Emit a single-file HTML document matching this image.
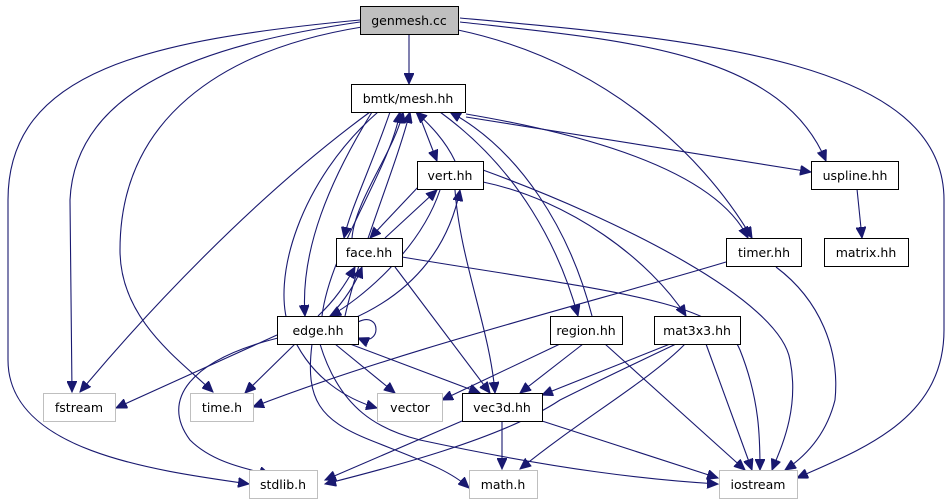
<!DOCTYPE html>
<html><head><meta charset="utf-8"><style>
body{margin:0;background:#fff}
svg{display:block}
text{font-family:"DejaVu Sans","Liberation Sans",sans-serif;font-size:12.5px;text-anchor:middle;fill:#000}
.e{fill:none;stroke:#191970;stroke-width:1.1}
</style></head><body>
<svg width="951" height="504" viewBox="0 0 951 504" xmlns="http://www.w3.org/2000/svg">
<defs><marker id="a" markerUnits="userSpaceOnUse" markerWidth="12" markerHeight="10" refX="11" refY="5" orient="auto"><path d="M0,0 L11,5 L0,10 z" fill="#191970" stroke="#191970"/></marker></defs>
<g class="e" marker-end="url(#a)">
<path d="M409,35 L409,84"/>
<path d="M360,22 C200,45 75,90 70,200 L72,392"/>
<path d="M362,27 C220,50 120,120 120,250 C120,320 180,360 213,392"/>
<path d="M360,20 C150,40 8,70 8,200 L8,360 C8,450 150,470 249,484"/>
<path d="M458,30 C600,60 700,150 752,238"/>
<path d="M460,22 C620,40 780,50 826,161"/>
<path d="M460,18 C700,40 944,60 944,200 L944,330 C944,420 860,450 797,478"/>
<path d="M418,112 L437,161"/>
<path d="M390,112 C370,170 350,210 344,238"/>
<path d="M372,112 C330,180 300,250 305,316"/>
<path d="M466,117 L811,172"/>
<path d="M466,114 C620,140 720,180 748,238"/>
<path d="M440,112 C520,170 560,250 578,316"/>
<path d="M370,112 C250,200 140,320 80,392"/>
<path d="M378,112 C300,180 270,280 290,330 C310,380 350,400 377,408"/>
<path d="M455,161 C445,140 430,125 416,112"/>
<path d="M352,238 C355,200 395,150 403,112"/>
<path d="M322,316 C330,250 390,170 400,112"/>
<path d="M345,316 C360,250 395,170 410,112"/>
<path d="M592,316 C570,230 520,150 450,112"/>
<path d="M420,185 L370,238"/>
<path d="M483,182 C570,200 650,260 686,316"/>
<path d="M483,170 C620,220 780,300 790,360 C800,410 780,450 772,470"/>
<path d="M455,190 C460,260 490,330 495,393"/>
<path d="M440,190 C420,250 360,300 330,316"/>
<path d="M385,238 L437,190"/>
<path d="M395,267 L490,393"/>
<path d="M402,257 C600,290 720,300 740,350 C760,400 760,440 760,470"/>
<path d="M350,320 C420,290 450,240 460,190"/>
<path d="M330,316 C345,300 355,285 362,267"/>
<path d="M318,316 C335,300 345,285 355,267"/>
<path d="M358,322 C382,310 382,348 358,338"/>
<path d="M277,335 L116,408"/>
<path d="M295,344 L245,393"/>
<path d="M335,344 L395,393"/>
<path d="M350,344 L480,393"/>
<path d="M278,338 C190,360 160,400 190,440 C215,465 255,470 270,475"/>
<path d="M312,344 C305,400 320,420 370,440 C420,460 450,470 469,488"/>
<path d="M320,344 C340,410 380,430 420,440 C560,470 650,480 718,484"/>
<path d="M726,262 C600,300 400,350 253,407"/>
<path d="M776,267 C820,300 840,350 835,400 C825,440 800,460 785,470"/>
<path d="M560,344 L442,400"/>
<path d="M583,344 L520,393"/>
<path d="M605,344 L745,470"/>
<path d="M670,344 L542,395"/>
<path d="M676,344 C600,380 580,390 560,400 C500,440 380,470 325,484"/>
<path d="M685,344 C650,380 580,420 520,469"/>
<path d="M706,344 L752,470"/>
<path d="M857,189 L862,238"/>
<path d="M462,421 L325,480"/>
<path d="M502,421 L502,469"/>
<path d="M542,421 L718,478"/>
</g>
<g stroke-width="1">
<rect x="360.5" y="6.5" width="98" height="28" fill="#bfbfbf" stroke="#000"/>
<rect x="351.5" y="84.5" width="114" height="28" fill="#fff" stroke="#000"/>
<rect x="417.5" y="161.5" width="66" height="28" fill="#fff" stroke="#000"/>
<rect x="811.5" y="161.5" width="87" height="28" fill="#fff" stroke="#000"/>
<rect x="336.5" y="238.5" width="66" height="28" fill="#fff" stroke="#000"/>
<rect x="726.5" y="238.5" width="75" height="28" fill="#fff" stroke="#000"/>
<rect x="824.5" y="238.5" width="84" height="28" fill="#fff" stroke="#000"/>
<rect x="277.5" y="316.5" width="81" height="28" fill="#fff" stroke="#000"/>
<rect x="550.5" y="316.5" width="72" height="28" fill="#fff" stroke="#000"/>
<rect x="654.5" y="316.5" width="86" height="28" fill="#fff" stroke="#000"/>
<rect x="43.5" y="393.5" width="72" height="28" fill="#fff" stroke="#bfbfbf"/>
<rect x="190.5" y="393.5" width="63" height="28" fill="#fff" stroke="#bfbfbf"/>
<rect x="377.5" y="393.5" width="65" height="28" fill="#fff" stroke="#bfbfbf"/>
<rect x="462.5" y="393.5" width="80" height="28" fill="#fff" stroke="#000"/>
<rect x="249.5" y="470.5" width="68" height="28" fill="#fff" stroke="#bfbfbf"/>
<rect x="469.5" y="470.5" width="68" height="28" fill="#fff" stroke="#bfbfbf"/>
<rect x="719.5" y="470.5" width="78" height="28" fill="#fff" stroke="#bfbfbf"/>
</g>
<text x="409" y="25">genmesh.cc</text>
<text x="408" y="103">bmtk/mesh.hh</text>
<text x="450" y="180">vert.hh</text>
<text x="855" y="180">uspline.hh</text>
<text x="369" y="257">face.hh</text>
<text x="764" y="257">timer.hh</text>
<text x="866" y="257">matrix.hh</text>
<text x="318" y="335">edge.hh</text>
<text x="586" y="335">region.hh</text>
<text x="697" y="335">mat3x3.hh</text>
<text x="79" y="412">fstream</text>
<text x="222" y="412">time.h</text>
<text x="410" y="412">vector</text>
<text x="502" y="412">vec3d.hh</text>
<text x="283" y="489">stdlib.h</text>
<text x="503" y="489">math.h</text>
<text x="758" y="489">iostream</text>
</svg>
</body></html>
